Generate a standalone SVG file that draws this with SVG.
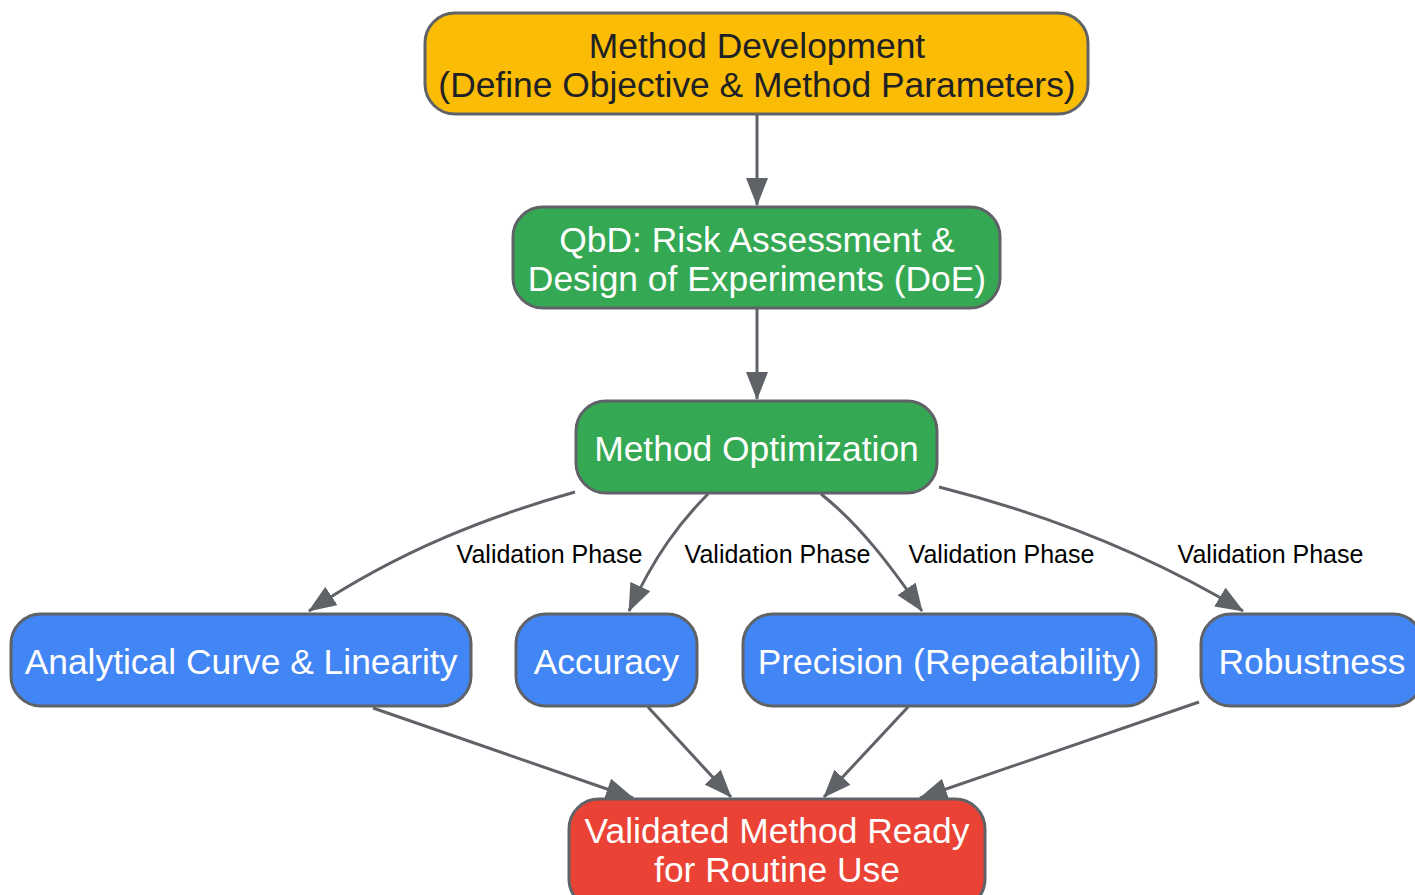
<svg xmlns="http://www.w3.org/2000/svg" width="1415" height="895" viewBox="0 0 1415 895">
<defs>
<style>
.node rect{stroke:#5f6368;stroke-width:3}
.t{font-family:"Liberation Sans",Arial,sans-serif;font-size:35.4px;text-anchor:middle;fill:#ffffff}
.dark{fill:#202124}
.edge{fill:none;stroke:#5f6368;stroke-width:3;marker-end:url(#arr)}
.lbl{font-family:"Liberation Sans",Arial,sans-serif;font-size:25px;text-anchor:middle;fill:#000000}
</style>
<marker id="arr" markerUnits="userSpaceOnUse" markerWidth="28" markerHeight="22" refX="27" refY="11" orient="auto" viewBox="0 0 28 22">
<path d="M0,0 L28,11 L0,22 z" fill="#5f6368"/>
</marker>
</defs>
<rect width="1415" height="895" fill="#ffffff"/>
<g id="connectors">
<path class="edge" d="M757,114 L757,205"/>
<path class="edge" d="M757,308 L757,399"/>
<path class="edge" d="M575,492 C490,516 400,550 309,611"/>
<path class="edge" d="M708,494 C680,522 655,555 629,611"/>
<path class="edge" d="M821,494 C860,525 890,565 922,611"/>
<path class="edge" d="M939,487 C1050,515 1150,555 1243,611"/>
<path class="edge" d="M373,708 L633,798"/>
<path class="edge" d="M648,707 L731,797"/>
<path class="edge" d="M908,707 L824,797"/>
<path class="edge" d="M1199,702 L920,798"/>
<text class="lbl" x="549.5" y="563">Validation Phase</text>
<text class="lbl" x="777.5" y="563">Validation Phase</text>
<text class="lbl" x="1001.5" y="563">Validation Phase</text>
<text class="lbl" x="1270.5" y="563">Validation Phase</text>
</g>
<g id="n1" class="node">
<rect x="425" y="13" width="663" height="101" rx="30" ry="30" fill="#FBBC05"/>
<text class="t dark" x="757" y="58">Method Development</text>
<text class="t dark" x="757" y="97">(Define Objective &amp; Method Parameters)</text>
</g>
<g id="n2" class="node">
<rect x="513" y="207" width="487" height="101" rx="30" ry="30" fill="#34A853"/>
<text class="t" x="757" y="252">QbD: Risk Assessment &amp;</text>
<text class="t" x="757" y="291">Design of Experiments (DoE)</text>
</g>
<g id="n3" class="node">
<rect x="576" y="401" width="361" height="92" rx="30" ry="30" fill="#34A853"/>
<text class="t" x="756.5" y="461">Method Optimization</text>
</g>
<g id="n4" class="node">
<rect x="11" y="614" width="460" height="92" rx="30" ry="30" fill="#4285F4"/>
<text class="t" x="241" y="674">Analytical Curve &amp; Linearity</text>
</g>
<g id="n5" class="node">
<rect x="516" y="614" width="181" height="92" rx="30" ry="30" fill="#4285F4"/>
<text class="t" x="606.5" y="674">Accuracy</text>
</g>
<g id="n6" class="node">
<rect x="743" y="614" width="413" height="92" rx="30" ry="30" fill="#4285F4"/>
<text class="t" x="949.5" y="674">Precision (Repeatability)</text>
</g>
<g id="n7" class="node">
<rect x="1201" y="614" width="222" height="92" rx="30" ry="30" fill="#4285F4"/>
<text class="t" x="1312" y="674">Robustness</text>
</g>
<g id="n8" class="node">
<rect x="569" y="799" width="416" height="110" rx="30" ry="30" fill="#EA4335"/>
<text class="t" x="777" y="843">Validated Method Ready</text>
<text class="t" x="777" y="882">for Routine Use</text>
</g>
</svg>
